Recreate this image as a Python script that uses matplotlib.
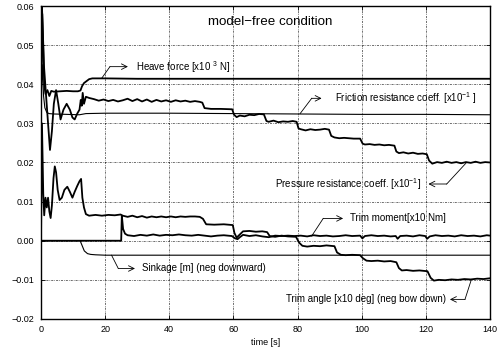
import numpy as np
import matplotlib
matplotlib.use("Agg")
import matplotlib.pyplot as plt

plt.rcParams['font.family'] = ['Liberation Sans', 'DejaVu Sans']
plt.rcParams['mathtext.fontset'] = 'custom'
plt.rcParams['mathtext.rm'] = 'Liberation Sans'
plt.rcParams['mathtext.it'] = 'Liberation Sans:italic'

# --- data ---
heave_t = [0, 0.3, 0.6, 1.0, 1.4, 2.0, 2.6, 3.2, 4, 6, 8, 10, 11.5, 12.3, 12.8, 13.4, 14.2, 15, 16, 18, 20,
           30, 40, 50, 60, 70, 80, 90, 100, 110, 120, 130, 140]
heave_v = [0.036, 0.060, 0.052, 0.040, 0.0375, 0.0385, 0.037, 0.0383, 0.0381, 0.0382, 0.0383, 0.0382, 0.0382,
           0.0384, 0.0395, 0.0403, 0.0408, 0.0413, 0.0415, 0.0415, 0.0415,
           0.0414, 0.0414, 0.0414, 0.0414, 0.0414, 0.0414, 0.0414, 0.0414, 0.0414, 0.0414, 0.0414, 0.0414]

friction_t = [0, 0.4, 0.8, 1.2, 1.8, 2.5, 4, 8, 12, 14, 20, 40, 60, 80, 100, 120, 140]
friction_v = [0.036, 0.045, 0.037, 0.034, 0.0328, 0.0325, 0.0324, 0.0323, 0.0322, 0.0325, 0.0326, 0.0326,
              0.0325, 0.0324, 0.0323, 0.0323, 0.0322]

pressure_t = [0, 0.4, 0.9, 1.5, 2.2, 2.8, 3.4, 4.0, 4.7, 5.4, 6.1, 7.0, 8.0, 9.0, 9.8, 10.5, 11.3, 12.0, 12.4,
              12.7, 13.0, 13.4, 14, 15, 16.5, 18, 19.5, 21, 22.5, 24, 25.5, 27, 28.5, 30, 31.5, 33, 34.5, 36,
              37.5, 39, 40.5, 42, 43.5, 45, 46.5, 48, 49.5, 50.3, 51, 53, 56, 59.6, 60.2, 61, 62, 63.5, 65,
              66.5, 68, 69.5, 70.3, 71, 72.5, 74, 75.5, 77, 78.5, 79.7, 80.3, 81, 82.5, 84, 85.5, 87, 88.5,
              89.8, 90.5, 91.5, 93, 94.5, 96, 97.5, 99.5, 100.3, 101, 102.5, 104, 105.5, 107, 108.5, 110.2,
              110.8, 111.6, 113, 114.5, 116, 117.5, 119, 120.3, 121, 122, 123.5, 125, 126.5, 128, 129.5, 131,
              132.5, 134, 135.5, 137, 138.5, 140]
pressure_v = [0.034, 0.058, 0.045, 0.038, 0.030, 0.0232, 0.028, 0.035, 0.0385, 0.035, 0.031, 0.0335, 0.035,
              0.0335, 0.0315, 0.031, 0.0325, 0.0335, 0.036, 0.0345, 0.0378, 0.035, 0.0368, 0.0365, 0.0362,
              0.0358, 0.0361, 0.0357, 0.036, 0.0356, 0.0359, 0.0363, 0.0357, 0.0362, 0.0356, 0.0361, 0.0355,
              0.0360, 0.0356, 0.0359, 0.0355, 0.0359, 0.0356, 0.0358, 0.0355, 0.0357, 0.0355, 0.0353, 0.0339,
              0.0337, 0.0337, 0.0336, 0.0322, 0.0316, 0.0320, 0.0318, 0.0322, 0.0321, 0.0324, 0.0323, 0.0306,
              0.0304, 0.0307, 0.0303, 0.0305, 0.0304, 0.0306, 0.0304, 0.0287, 0.0285, 0.0282, 0.0285, 0.0283,
              0.0284, 0.0286, 0.0284, 0.0268, 0.0264, 0.0262, 0.0263, 0.0262, 0.0261, 0.0261, 0.0248, 0.0246,
              0.0247, 0.0245, 0.0246, 0.0244, 0.0245, 0.0243, 0.0228, 0.0224, 0.0226, 0.0223, 0.0225, 0.0222,
              0.0223, 0.0221, 0.0205, 0.0197, 0.0201, 0.0199, 0.0202, 0.0199, 0.0201, 0.0198, 0.0201, 0.0199,
              0.0202, 0.0199, 0.0201, 0.0200]

trim_angle_t = [0, 0.3, 0.7, 1.0, 1.4, 1.8, 2.2, 2.6, 3.0, 3.4, 3.9, 4.3, 4.7, 5.2, 5.8, 6.5, 7.3, 8.2, 9.0,
                9.8, 10.5, 11.3, 12.0, 12.5, 12.9, 13.4, 14.0, 15, 17, 19, 21, 23, 24.8, 25.5, 27, 28.5, 30,
                31.5, 33, 34.5, 36, 37.5, 39, 40.5, 42, 43.5, 45, 46.5, 48, 49.5, 50.5, 51.5, 54, 57, 59.8,
                60.3, 61, 62, 63, 65, 67, 69, 70.5, 71.3, 73, 75, 77, 79.5, 80.5, 81.5, 83, 85, 87, 89, 91.5,
                92.3, 93.5, 95, 97, 99.5, 100.4, 101.5, 103, 105, 107, 109, 110.8, 111.6, 112.5, 114, 116, 118,
                120.5, 121.5, 122.5, 124, 126, 128, 130, 132, 134, 136, 138, 140]
trim_angle_v = [0.0, 0.030, 0.012, 0.0065, 0.011, 0.0085, 0.011, 0.0075, 0.0058, 0.009, 0.016, 0.019, 0.0175,
                0.013, 0.0104, 0.011, 0.013, 0.0138, 0.0125, 0.011, 0.0125, 0.014, 0.0152, 0.0158, 0.011,
                0.0085, 0.0068, 0.0064, 0.0066, 0.0064, 0.0066, 0.0065, 0.0067, 0.0064, 0.0061, 0.0064, 0.0060,
                0.0063, 0.0059, 0.0062, 0.0060, 0.0062, 0.0060, 0.0062, 0.0060, 0.0062, 0.0061, 0.0062, 0.0062,
                0.0061, 0.0056, 0.0042, 0.0041, 0.0042, 0.0040, 0.0020, 0.0008, 0.0016, 0.0024, 0.0025, 0.0023,
                0.0024, 0.0022, 0.0012, 0.0010, 0.0013, 0.0011, 0.0010, -0.0005, -0.0013, -0.0015, -0.0013,
                -0.0014, -0.0012, -0.0014, -0.0030, -0.0036, -0.0037, -0.0036, -0.0037, -0.0045, -0.0051,
                -0.0052, -0.0051, -0.0053, -0.0052, -0.0055, -0.0070, -0.0076, -0.0075, -0.0077, -0.0076,
                -0.0078, -0.0095, -0.0102, -0.0100, -0.0101, -0.0099, -0.0100, -0.0098, -0.0099, -0.0097,
                -0.0098, -0.0096]

trim_moment_t = [0, 25.0, 25.2, 25.6, 26.2, 27, 29, 31, 33, 35, 37, 39, 41, 43, 45, 47, 49, 51, 53, 55, 57,
                 59.5, 60.5, 61.3, 62, 63, 65, 67, 69, 71, 73, 75, 77, 79, 81, 83, 85, 87, 89, 91, 93, 95, 97,
                 99.5, 100.2, 101, 103, 105, 107, 109, 110.6, 111.2, 112, 114, 116, 118, 119.8, 120.4, 121.2,
                 123, 125, 127, 129, 131, 133, 135, 137, 139, 140]
trim_moment_v = [0, 0, 0.0064, 0.0030, 0.0018, 0.0014, 0.0012, 0.0015, 0.0013, 0.0016, 0.0013, 0.0015, 0.0014,
                 0.0016, 0.0014, 0.0013, 0.0015, 0.0013, 0.0011, 0.0013, 0.0014, 0.0012, 0.0006, 0.0004, 0.0009,
                 0.0015, 0.0012, 0.0014, 0.0011, 0.0009, 0.0013, 0.0012, 0.0013, 0.0012, 0.0013, 0.0011, 0.0014,
                 0.0012, 0.0013, 0.0011, 0.0012, 0.0014, 0.0012, 0.0013, 0.0006, 0.0012, 0.0014, 0.0012, 0.0013,
                 0.0011, 0.0012, 0.0005, 0.0012, 0.0013, 0.0011, 0.0014, 0.0012, 0.0005, 0.0011, 0.0014, 0.0012,
                 0.0013, 0.0011, 0.0014, 0.0012, 0.0013, 0.0011, 0.0014, 0.0013]

sinkage_t = [0, 12.2, 12.8, 13.5, 14.5, 15.5, 17, 20, 30, 60, 100, 140]
sinkage_v = [0, 0, -0.0012, -0.0026, -0.0033, -0.0035, -0.0036, -0.0037, -0.0037, -0.0037, -0.0037, -0.0037]

xticks = [0, 20, 40, 60, 80, 100, 120, 140]
yticks = [-0.02, -0.01, 0.0, 0.01, 0.02, 0.03, 0.04, 0.05, 0.06]
ytick_labels = ['\u22120.02', '\u22120.01', '0.00', '0.01', '0.02', '0.03', '0.04', '0.05', '0.06']

# labels: text, text position, alignment, leader start (on curve), bend, arrow head
labels = [
    ('Heave force [x10 $^{3}$ N]', (29.5, 0.0445), 'left', (18.9, 0.0415), (21.5, 0.0445), (27.1, 0.0445)),
    ('Friction resistance coeff. [x10$^{-1}$ ]', (91.7, 0.0364), 'left', (80.8, 0.0325), (84.4, 0.0364), (87.5, 0.0364)),
    ('Pressure resistance coeff. [x10$^{-1}$]', (118.6, 0.0145), 'right', (132.7, 0.0200), (126.5, 0.0145), (120.8, 0.0145)),
    ('Trim moment[x10 Nm]', (96.3, 0.0057), 'left', (84.4, 0.0012), (88.0, 0.0057), (94.2, 0.0057)),
    ('Trim angle [x10 deg] (neg bow down)', (126.3, -0.0150), 'right', (134.2, -0.0099), (132.2, -0.0150), (127.5, -0.0150)),
    ('Sinkage [m] (neg downward)', (31.4, -0.0071), 'left', (22.0, -0.0037), (24.1, -0.0071), (29.3, -0.0071)),
]

fig = plt.figure(figsize=(5.0, 3.54), dpi=100)
ax = fig.add_axes([0.082, 0.099, 0.898, 0.884])

ax.plot(heave_t, heave_v, color='black', lw=1.3)
ax.plot(friction_t, friction_v, color='black', lw=0.8)
ax.plot(pressure_t, pressure_v, color='black', lw=1.3)
ax.plot(trim_angle_t, trim_angle_v, color='black', lw=1.3)
ax.plot(trim_moment_t, trim_moment_v, color='black', lw=1.3)
ax.plot(sinkage_t, sinkage_v, color='black', lw=0.8)

for text, tpos, ha, start, bend, head in labels:
    ax.plot([start[0], bend[0]], [start[1], bend[1]], color='black', lw=0.6)
    ax.annotate('', xy=head, xytext=bend,
                arrowprops=dict(arrowstyle='->', color='black', lw=0.6, shrinkA=0, shrinkB=0))
    ax.text(tpos[0], tpos[1], text, fontsize=7, ha=ha, va='center')

ax.text(71.4, 0.0559, 'model\u2212free condition', fontsize=9.6, ha='center', va='center')

ax.set_xlim(0, 140)
ax.set_ylim(-0.02, 0.06)
ax.set_xticks(xticks)
ax.set_yticks(yticks)
ax.set_yticklabels(ytick_labels)
ax.tick_params(direction='in', labelsize=6.5, top=True, right=True, length=3, width=0.6)
ax.tick_params(axis='y', pad=5)
ax.tick_params(axis='x', pad=4.5)
ax.grid(True, color='black', linestyle=(0, (3, 1.5, 1, 1.5)), lw=0.5, alpha=0.8)
for s in ax.spines.values():
    s.set_linewidth(1.0)
ax.set_xlabel('time [s]', fontsize=6.5, labelpad=3)

fig.savefig('out.png', dpi=100)
